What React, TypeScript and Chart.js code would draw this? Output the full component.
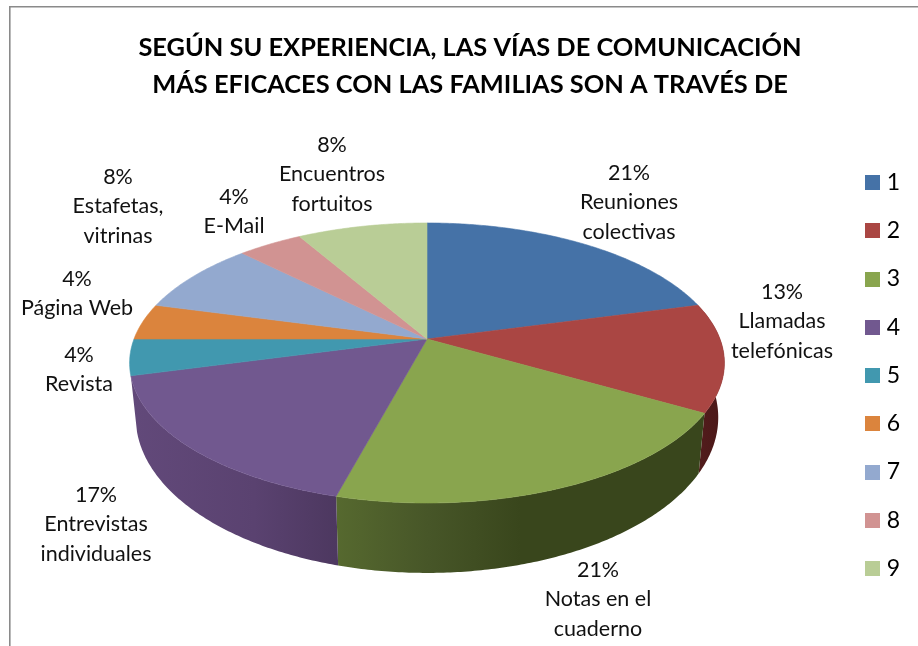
import React, { useEffect, useRef } from "react";
import { Chart, registerables } from "chart.js";

Chart.register(...registerables);

const categories = ["1", "2", "3", "4", "5", "6", "7", "8", "9"];
const responses = [5, 3, 5, 4, 1, 1, 2, 1, 2];
const percents = ["21%", "13%", "21%", "17%", "4%", "4%", "8%", "4%", "8%"];
const sliceNames = [
  ["Reuniones", "colectivas"],
  ["Llamadas", "telefónicas"],
  ["Notas en el", "cuaderno"],
  ["Entrevistas", "individuales"],
  ["Revista"],
  ["Página Web"],
  ["Estafetas,", "vitrinas"],
  ["E-Mail"],
  ["Encuentros", "fortuitos"],
];
const titleLines = [
  "SEGÚN SU EXPERIENCIA, LAS VÍAS DE COMUNICACIÓN",
  "MÁS EFICACES CON LAS FAMILIAS SON A TRAVÉS DE",
];
const faceColors = ["#4572A7", "#AA4643", "#89A54E", "#71588F", "#4198AF", "#DB843D", "#93A9CF", "#D19392", "#B9CD96"];

const sideGradients: Record<number, [number, string][]> = {
  1: [[0, "#521C1C"], [1, "#4A1818"]],
  2: [[0, "#56692F"], [0.25, "#475628"], [0.5, "#39461C"], [1, "#39461C"]],
  3: [[0, "#62497A"], [0.6, "#5A4270"], [1, "#4D3860"]],
};

const labelCenters: [number, number][] = [
  [629, 173], [782, 292], [598, 570], [96, 495], [79, 355], [77, 279], [118, 177], [234, 197], [332, 145],
];
const labelPitch = 29.3;
const FONT = "Lato, sans-serif";

const topDisk = { cx: 427, y0: 339, a: 293, b: 135.9, k: -0.1714 };
const lowDisk = { cx: 427, y0: 391, a: 287, b: 151, k: -0.17 };

function project(d: typeof topDisk, ang: number): [number, number] {
  const u = Math.cos(ang);
  const v = Math.sin(ang);
  const w = 1 + d.k * v;
  return [d.cx + (d.a * u) / w, d.y0 + (d.b * v) / w];
}

function rim(d: typeof topDisk, a0: number, a1: number): [number, number][] {
  const n = Math.max(2, Math.ceil(Math.abs(a1 - a0) / 0.01));
  const out: [number, number][] = [];
  for (let i = 0; i <= n; i++) out.push(project(d, a0 + ((a1 - a0) * i) / n));
  return out;
}

const pie3d = {
  id: "pie3d",
  afterLayout(chart: any) {
    const lg = chart.legend;
    lg.left -= 13;
    lg.right -= 13;
    lg.top += 52.5;
    lg.bottom += 52.5;
  },
  beforeDraw(chart: any) {
    const { ctx, width, height } = chart;
    ctx.save();
    ctx.strokeStyle = "#8A8A8A";
    ctx.lineWidth = 1.6;
    ctx.beginPath();
    ctx.moveTo(9.8, height);
    ctx.lineTo(9.8, 6.8);
    ctx.lineTo(width, 6.8);
    ctx.stroke();
    ctx.restore();
  },
  beforeDatasetDraw(chart: any, args: any) {
    const { ctx } = chart;
    const arcs = chart.getDatasetMeta(args.index).data;
    ctx.save();
    arcs.forEach((arc: any, i: number) => {
      const stops = sideGradients[i];
      if (!stops) return;
      const a0 = Math.max(arc.startAngle, -0.3);
      const a1 = Math.min(arc.endAngle, Math.PI + 0.3);
      const pts = [...rim(topDisk, a0, a1), ...rim(lowDisk, a1, a0)];
      const xs = rim(topDisk, a0, a1).map((p) => p[0]);
      const g = ctx.createLinearGradient(Math.min(...xs), 0, Math.max(...xs), 0);
      stops.forEach(([o, c]) => g.addColorStop(o, c));
      ctx.fillStyle = g;
      ctx.beginPath();
      pts.forEach((p, j) => (j ? ctx.lineTo(p[0], p[1]) : ctx.moveTo(p[0], p[1])));
      ctx.closePath();
      ctx.fill();
    });
    arcs.forEach((arc: any) => {
      const pts = rim(topDisk, arc.startAngle, arc.endAngle);
      ctx.fillStyle = arc.options.backgroundColor;
      ctx.strokeStyle = arc.options.backgroundColor;
      ctx.lineWidth = 0.6;
      ctx.beginPath();
      ctx.moveTo(topDisk.cx, topDisk.y0);
      pts.forEach((p) => ctx.lineTo(p[0], p[1]));
      ctx.closePath();
      ctx.fill();
      ctx.stroke();
    });
    ctx.restore();
    return false;
  },
  afterDatasetsDraw(chart: any) {
    const { ctx } = chart;
    ctx.save();
    ctx.fillStyle = "#111";
    ctx.font = `21.5px ${FONT}`;
    ctx.textAlign = "center";
    ctx.textBaseline = "middle";
    categories.forEach((_, i) => {
      const [x, y] = labelCenters[i];
      [percents[i], ...sliceNames[i]].forEach((t, j) => ctx.fillText(t, x, y + j * labelPitch));
    });
    ctx.restore();
  },
};

function swatch(color: string) {
  const c = document.createElement("canvas");
  c.width = 15;
  c.height = 15;
  const x = c.getContext("2d")!;
  x.fillStyle = color;
  x.fillRect(0, 0, 15, 15);
  return c;
}

export default function App() {
  const ref = useRef<HTMLCanvasElement>(null);
  useEffect(() => {
    const chart = new Chart(ref.current!, {
      type: "pie",
      data: {
        labels: categories,
        datasets: [{ data: responses, backgroundColor: faceColors, borderWidth: 0 }],
      },
      plugins: [pie3d],
      options: {
        animation: false,
        responsive: false,
        events: [],
        layout: { padding: { left: 17, right: -5, top: 0, bottom: 0 } },
        plugins: {
          tooltip: { enabled: false },
          title: {
            display: true,
            text: titleLines,
            color: "#000",
            font: { family: FONT, size: 25.4, weight: "bold", lineHeight: 1.44 },
            padding: { top: 30, bottom: 0 },
          },
          legend: {
            position: "right",
            labels: {
              font: { family: FONT, size: 23 },
              color: "#111",
              usePointStyle: true,
              pointStyleWidth: 5,
              padding: 25.25,
              generateLabels: () =>
                categories.map((t, i) => ({
                  text: t,
                  fillStyle: faceColors[i],
                  strokeStyle: faceColors[i],
                  lineWidth: 0,
                  pointStyle: swatch(faceColors[i]),
                  hidden: false,
                  index: i,
                })),
            },
          },
        },
      },
    } as any);
    return () => chart.destroy();
  }, []);
  return (
    <div style={{ position: "fixed", left: 0, top: 0, width: 918, height: 646, background: "#fff" }}>
      <canvas ref={ref} width={918} height={646} style={{ display: "block" }} />
    </div>
  );
}
